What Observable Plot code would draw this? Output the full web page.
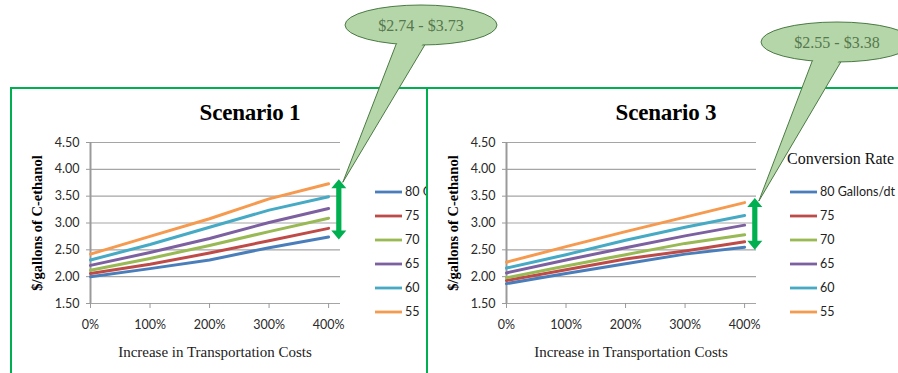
<!DOCTYPE html>
<html><head><meta charset="utf-8">
<script src="https://cdn.jsdelivr.net/npm/d3@7"></script>
<script src="https://cdn.jsdelivr.net/npm/@observablehq/plot@0.6"></script>
<style>
html,body{margin:0;padding:0;background:#fff;}
#wrap{position:relative;width:898px;height:373px;overflow:hidden;background:#fff;}
.abs{position:absolute;}
.title{font-family:"Liberation Serif",serif;font-weight:bold;font-size:23px;color:#000;white-space:nowrap;transform:translateX(-50%);line-height:1;letter-spacing:-0.2px;}
.xtitle{font-family:"Liberation Serif",serif;font-size:15px;color:#222;white-space:nowrap;transform:translateX(-50%);line-height:1;}
.ytitle{font-family:"Liberation Serif",serif;font-weight:bold;font-size:14.5px;color:#000;white-space:nowrap;transform:translate(-50%,-50%) rotate(-90deg);line-height:1;}
.border{box-sizing:border-box;border:2px solid #00b050;border-bottom:none;}
.ctitle{font-family:"Liberation Serif",serif;font-size:16px;color:#111;white-space:nowrap;line-height:1;}
</style></head><body><div id="wrap"></div>
<script>
// ---- data ----
const increases = [0, 100, 200, 300, 400];          // % increase in transportation costs
const xTicks = [0, 100, 200, 300, 400];
const yTicks = [1.5, 2.0, 2.5, 3.0, 3.5, 4.0, 4.5];
const seriesNames = ["80 Gallons/dt", "75", "70", "65", "60", "55"];
const seriesColors = ["#4a7ebb", "#be4b48", "#98b954", "#7d60a0", "#46aac5", "#f59a4e"];
const chartTitles = ["Scenario 1", "Scenario 3"];
const xTitle = "Increase in Transportation Costs";
const yTitle = "$/gallons of C-ethanol";
const legendTitle = "Conversion Rate";

// Scenario 1
const s1Rate80 = [2.00, 2.15, 2.31, 2.54, 2.74];
const s1Rate75 = [2.06, 2.23, 2.44, 2.67, 2.90];
const s1Rate70 = [2.12, 2.34, 2.58, 2.84, 3.09];
const s1Rate65 = [2.21, 2.45, 2.71, 3.01, 3.27];
const s1Rate60 = [2.31, 2.60, 2.92, 3.24, 3.49];
const s1Rate55 = [2.42, 2.75, 3.08, 3.45, 3.73];
// Scenario 3
const s3Rate80 = [1.87, 2.06, 2.24, 2.42, 2.55];
const s3Rate75 = [1.93, 2.13, 2.33, 2.48, 2.65];
const s3Rate70 = [1.98, 2.20, 2.41, 2.62, 2.78];
const s3Rate65 = [2.07, 2.31, 2.54, 2.76, 2.96];
const s3Rate60 = [2.16, 2.41, 2.68, 2.92, 3.14];
const s3Rate55 = [2.27, 2.56, 2.84, 3.11, 3.38];

const scenario1 = [s1Rate80, s1Rate75, s1Rate70, s1Rate65, s1Rate60, s1Rate55];
const scenario3 = [s3Rate80, s3Rate75, s3Rate70, s3Rate65, s3Rate60, s3Rate55];

function toRows(series) {
  const rows = [];
  series.forEach((vals, i) => vals.forEach((v, j) => rows.push({x: increases[j], y: v, series: seriesNames[i]})));
  return rows;
}

const wrap = document.getElementById("wrap");
function addDiv(cls, text, left, top) {
  const d = document.createElement("div");
  d.className = "abs " + cls;
  d.textContent = text;
  d.style.left = left + "px";
  d.style.top = top + "px";
  wrap.appendChild(d);
  return d;
}

const CH = {width: 345, height: 205, mL: 90, mR: 5, mT: 12, mB: 32};
function makeChart(rows) {
  return Plot.plot({
    width: CH.width, height: CH.height,
    marginLeft: CH.mL, marginRight: CH.mR, marginTop: CH.mT, marginBottom: CH.mB,
    style: {background: "transparent", fontFamily: "Lato, sans-serif", fontSize: "12.5px", color: "#333", overflow: "visible"},
    x: {domain: [0, 420]},
    y: {domain: [1.5, 4.5]},
    color: {domain: seriesNames, range: seriesColors},
    marks: [
      Plot.gridY(yTicks, {stroke: "#a5a5a5", strokeOpacity: 1, strokeWidth: 1.2}),
      Plot.ruleX([0], {stroke: "#9a9a9a", strokeWidth: 2}),
      Plot.axisY(yTicks, {tickSize: 4, tickPadding: 7, tickFormat: d3.format(".2f"), stroke: "#9a9a9a", fill: "#2a2a2a", label: null}),
      Plot.axisX(xTicks, {tickSize: 5, tickPadding: 12, tickFormat: d => d + "%", stroke: "#9a9a9a", fill: "#2a2a2a", label: null}),
      Plot.line(rows, {x: "x", y: "y", z: "series", stroke: "series", strokeWidth: 3})
    ]
  });
}

const panels = [
  {left: 0, top: 130, series: scenario1, title: chartTitles[0], legendLeft: 370, legendW: 56, showLegendTitle: false},
  {left: 416, top: 130, series: scenario3, title: chartTitles[1], legendLeft: 786, legendW: 112, showLegendTitle: true}
];

const built = panels.map(p => {
  const chart = makeChart(toRows(p.series));
  chart.style.position = "absolute";
  chart.style.left = p.left + "px";
  chart.style.top = p.top + "px";
  wrap.appendChild(chart);
  const xs = chart.scale("x"), ys = chart.scale("y");
  const px = v => p.left + xs.apply(v);
  const py = v => p.top + ys.apply(v);
  // titles
  addDiv("title", p.title, px(0) + 160, 101);
  addDiv("xtitle", xTitle, (px(0) + px(420)) / 2, 345);
  addDiv("ytitle", yTitle, px(0) - 53, (py(1.5) + py(4.5)) / 2);
  // legend
  const lg = d3.create("svg").attr("width", p.legendW).attr("height", 150)
    .style("position", "absolute").style("left", p.legendLeft + "px").style("top", "175px").style("overflow", "hidden");
  const off = p.showLegendTitle ? 4 : 5;
  seriesNames.forEach((name, i) => {
    const yy = 17 + i * 24;
    lg.append("line").attr("x1", off).attr("x2", off + 27).attr("y1", yy).attr("y2", yy)
      .attr("stroke", seriesColors[i]).attr("stroke-width", 2.8);
    lg.append("text").attr("x", off + 30).attr("y", yy).attr("dy", "0.35em")
      .attr("font-family", "Lato, sans-serif").attr("font-size", 12.5).attr("fill", "#222").text(name);
  });
  wrap.appendChild(lg.node());
  if (p.showLegendTitle) addDiv("ctitle", legendTitle, p.legendLeft + 1, 151);
  const last = p.series.map(s => s[s.length - 1]);
  return {p, px, py, lo: d3.min(last), hi: d3.max(last)};
});

// borders
const b1 = addDiv("border", "", 10, 87); b1.style.width = "418px"; b1.style.height = "300px";
const b2 = addDiv("border", "", 426, 87); b2.style.width = "480px"; b2.style.height = "300px";

// overlay: range arrows and callouts
const ov = d3.create("svg").attr("width", 898).attr("height", 373)
  .style("position", "absolute").style("left", 0).style("top", 0).style("pointer-events", "none");
const calloutCenters = [[421, 25], [837, 42]];
const fmt = d3.format("$.2f");
built.forEach((b, i) => {
  const ax = b.px(418);
  const top = b.py(b.hi) - 4, bot = b.py(b.lo) + 3;
  const hw = 7.5, hh = 9, sw = 2.6;
  ov.append("path").attr("fill", "#00b050")
    .attr("d", `M${ax},${top} L${ax + hw},${top + hh} L${ax + sw},${top + hh} L${ax + sw},${bot - hh} L${ax + hw},${bot - hh} L${ax},${bot} L${ax - hw},${bot - hh} L${ax - sw},${bot - hh} L${ax - sw},${top + hh} L${ax - hw},${top + hh} Z`);
  const [cx, cy] = calloutCenters[i];
  const rx = 76, ry = 20;
  const ey = x => cy + ry * Math.sqrt(1 - ((x - cx) / rx) ** 2);
  const bx1 = cx - 24, bx2 = cx + 5;
  const tip = [ax + 4, top + 3];
  const tail = [[bx1, ey(bx1) - 2], [bx2, ey(bx2) - 2], tip];
  ov.append("polygon").attr("points", tail.map(d => d.join(",")).join(" "))
    .attr("fill", "#b5d6a8").attr("stroke", "#4b7a45").attr("stroke-width", 1);
  ov.append("ellipse").attr("cx", cx).attr("cy", cy).attr("rx", rx).attr("ry", ry)
    .attr("fill", "#b5d6a8").attr("stroke", "#4b7a45").attr("stroke-width", 1);
  const lerp = (a, c, t) => [a[0] + (c[0] - a[0]) * t, a[1] + (c[1] - a[1]) * t];
  const a2 = lerp([bx1 + 1.2, ey(bx1) - 4], tip, 0.06), b2p = lerp([bx2 - 1.2, ey(bx2) - 4], tip, 0.06);
  ov.append("polygon").attr("points", [[bx1 + 1.2, ey(bx1) - 4], [bx2 - 1.2, ey(bx2) - 4], [b2p[0] - 0.8, b2p[1]], [a2[0] + 0.8, a2[1]]].map(d => d.join(",")).join(" "))
    .attr("fill", "#b5d6a8");
  ov.append("text").attr("x", cx).attr("y", cy).attr("dy", "0.35em").attr("text-anchor", "middle")
    .attr("font-family", "Liberation Serif, serif").attr("font-size", 16).attr("fill", "#56784f")
    .text(`${fmt(b.lo)} - ${fmt(b.hi)}`);
});
wrap.appendChild(ov.node());
</script>
</body></html>
